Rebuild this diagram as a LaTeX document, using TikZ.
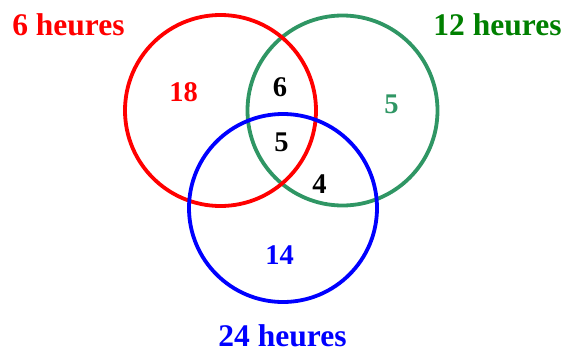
\documentclass[tikz,border=0pt]{standalone}
\usepackage{fontspec}
\setmainfont{Liberation Serif}
\definecolor{cred}{RGB}{255,0,0}
\definecolor{cgreen}{RGB}{47,150,100}
\definecolor{lgreen}{RGB}{0,128,0}
\definecolor{cblue}{RGB}{0,0,255}
\tikzset{
  ring/.style={line width=3.8pt},
  lab/.style={font=\fontsize{31.5}{33}\selectfont\bfseries, inner sep=0pt, anchor=center},
  num/.style={font=\fontsize{28.5}{30}\selectfont\bfseries, inner sep=0pt, anchor=center}
}
\begin{document}
\begin{tikzpicture}[x=1pt,y=-1pt]
\useasboundingbox (0,0) rectangle (564,351);
\coordinate (cg) at (342.5,110.5);
\coordinate (cr) at (220.5,110.5);
\coordinate (cb) at (283,208);
\draw[ring, cgreen] (cg) circle[radius=95];
\draw[ring, cred] (cr) circle[radius=95.5];
\draw[ring, cblue] (cb) circle[radius=94];
\node[lab, cred] (l6) at (68.5,25) {6 heures};
\node[lab, lgreen] (l12) at (497.5,24.5) {12 heures};
\node[lab, cblue] (l24) at (282.5,335.5) {24 heures};
\node[num, cred] (n18) at (183.5,92) {18};
\node[num] (n6) at (280,87.5) {6};
\node[num, cgreen] (n5g) at (391.5,104.5) {5};
\node[num] (n5) at (281.5,142) {5};
\node[num] (n4) at (319.5,184) {4};
\node[num, cblue] (n14) at (279.5,255) {14};
\end{tikzpicture}
\end{document}
